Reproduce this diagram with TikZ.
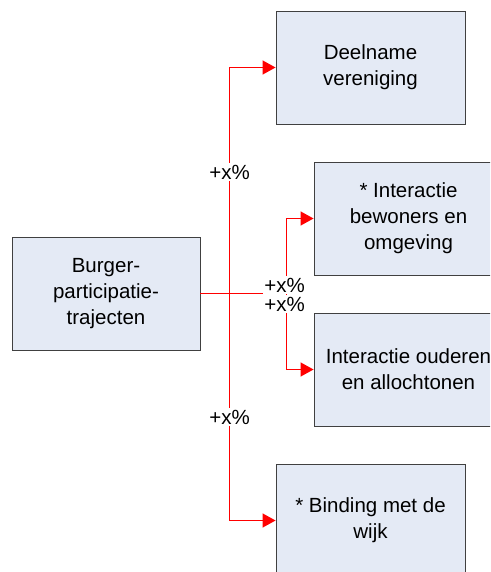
\documentclass[tikz,border=0pt]{standalone}
\usepackage{fontspec}
\setmainfont{Liberation Sans}
\usetikzlibrary{arrows.meta}
\definecolor{boxfill}{HTML}{E4EAF5}
\definecolor{boxline}{HTML}{404040}
\definecolor{linkred}{RGB}{255,0,0}
\tikzset{
 box/.style={draw=boxline, line width=0.9pt, fill=boxfill, minimum width=189pt, minimum height=113pt, inner sep=0pt, align=center, font=\fontsize{20.5}{26}\selectfont},
 redlink/.style={draw=linkred, color=linkred, line width=1.3pt},
 arr/.style={redlink, -{Triangle[length=13pt,width=14pt]}},
 pct/.style={fill=white, inner sep=1.5pt, font=\fontsize{20.5}{24}\selectfont}
}
\begin{document}
\begin{tikzpicture}[x=1pt,y=-1pt]
\useasboundingbox (0,0) rectangle (490,572);
\clip (0,0) rectangle (490,572);
\node[box, minimum width=188pt] (b) at (106,293.5) {Burger-\\participatie-\\trajecten};
\node[box] (dv) at (370.5,67.5) {Deelname\\vereniging};
\node[box] (ib) at (408.5,218.5) {* Interactie\\bewoners en\\omgeving};
\node[box] (io) at (408.5,369.5) {Interactie ouderen\\en allochtonen};
\node[box] (bw) at (370.5,520.5) {* Binding met de\\wijk};
\coordinate (j1) at (229.5,293.5);
\coordinate (j2) at (286.5,293.5);
\draw[redlink, line width=1.8pt] (b.east) -- (j2);
\draw[arr] (j1) |- (dv.west);
\draw[arr] (j1) |- (bw.west);
\draw[arr] (j2) |- (ib.west);
\draw[arr] (j2) |- (io.west);
\node[pct] (l1) at (229.5,172) {+x\%};
\node[pct] (l2) at (229.5,417) {+x\%};
\node[pct] (l3) at (284.5,285) {+x\%};
\node[pct] (l4) at (284.5,304) {+x\%};
\end{tikzpicture}
\end{document}
